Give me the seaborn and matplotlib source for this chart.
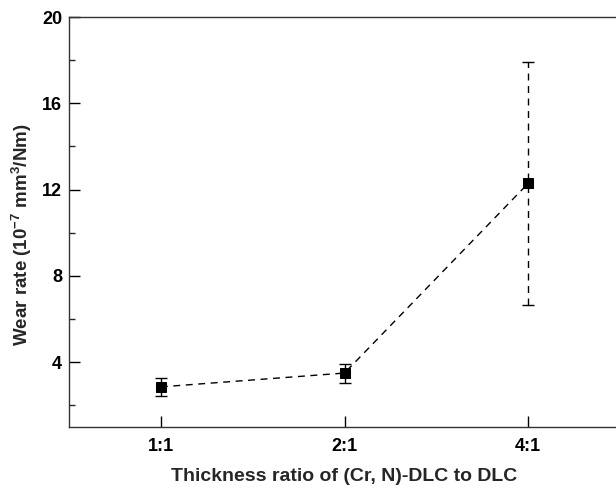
import matplotlib
matplotlib.use("Agg")
import matplotlib.pyplot as plt
import seaborn as sns
import numpy as np
from matplotlib.ticker import MultipleLocator

ratios = ["1:1", "2:1", "4:1"]
wear_rate = [2.86, 3.50, 12.29]
wear_err = [0.43, 0.44, 5.63]

sns.set_theme(style="ticks")
plt.rcParams['font.family'] = ['Liberation Sans', 'DejaVu Sans']
plt.rcParams['font.weight'] = 'bold'
plt.rcParams['mathtext.fontset'] = 'custom'
plt.rcParams['mathtext.rm'] = 'Liberation Sans:bold'
plt.rcParams['mathtext.bf'] = 'Liberation Sans:bold'
plt.rcParams['mathtext.default'] = 'bf'

fig = plt.figure(figsize=(6.16, 4.88), dpi=100)
ax = fig.add_axes([69/616, 61/488, (620-69)/616, (427-17)/488])

pos = list(range(len(ratios)))
sns.lineplot(x=pos, y=wear_rate, ax=ax, color="black", linewidth=1.0,
             marker="s", markersize=7, markeredgecolor="black",
             markerfacecolor="black", dashes=False)
ax.lines[0].set_dashes([5, 4])

eb = ax.errorbar(pos, wear_rate, yerr=wear_err, fmt="none", ecolor="black",
                 elinewidth=1.0, capsize=4, capthick=1.0)
eb[2][0].set_linestyle((0, (5, 4)))

ax.set_xlim(-0.5, 2.5)
ax.set_ylim(1, 20)
ax.set_xticks(pos)
ax.set_xticklabels(ratios)
ax.yaxis.set_major_locator(MultipleLocator(4))
ax.yaxis.set_minor_locator(MultipleLocator(2))
ax.set_yticks([4, 8, 12, 16, 20])

ax.tick_params(axis="both", which="major", direction="in", length=8, width=1,
               labelsize=13, pad=5, colors="black")
ax.tick_params(axis="x", which="major", pad=8)
ax.tick_params(axis="y", which="minor", direction="in", length=4, width=1)
for lab in ax.get_xticklabels() + ax.get_yticklabels():
    lab.set_fontweight("bold")

for s in ["left", "bottom", "top"]:
    ax.spines[s].set_linewidth(1.0)
    ax.spines[s].set_color("#333333")
ax.spines["right"].set_visible(False)

ax.set_xlabel("Thickness ratio of (Cr, N)-DLC to DLC", fontsize=14,
              fontweight="bold", labelpad=9)
ax.set_ylabel("Wear rate (10$^{-7}$ mm$^{3}$/Nm)", fontsize=13.5,
              fontweight="bold")
ax.yaxis.set_label_coords(-0.063, 0.47)

fig.savefig("out.png", dpi=100)
